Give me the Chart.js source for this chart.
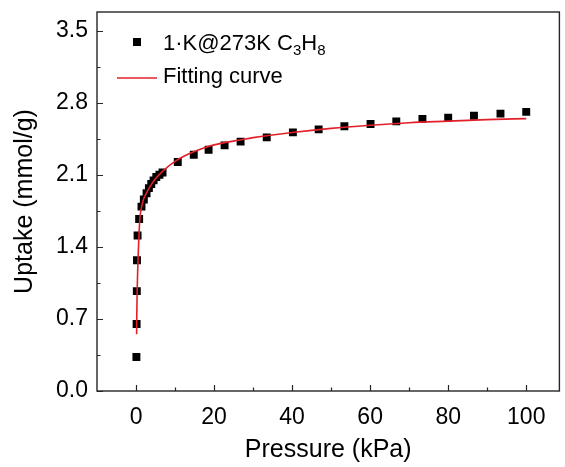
<!DOCTYPE html>
<html>
<head>
<meta charset="utf-8">
<script src="https://cdn.jsdelivr.net/npm/chart.js@4.4.1/dist/chart.umd.min.js"></script>
<style>
  body { margin: 0; background: #fff; }
  #chart { display: block; }
</style>
</head>
<body>
<canvas id="chart" width="565" height="467"></canvas>
<script>
// measured points (kPa, mmol/g)
const pressure = [0.1, 0.15, 0.2, 0.25, 0.4, 0.8, 1.4, 2.0, 2.7, 3.3, 3.9, 4.5, 5.2, 6.0, 6.8,
    10.7, 14.8, 18.6, 22.7, 26.8, 33.5, 40.2, 46.8, 53.4, 60.1, 66.7, 73.4, 80.0, 86.6, 93.4, 100];
const uptake = [0.33, 0.65, 0.97, 1.27, 1.51, 1.67, 1.79, 1.86, 1.92, 1.97, 2.01, 2.045, 2.078, 2.10, 2.122,
    2.223, 2.294, 2.343, 2.385, 2.421, 2.463, 2.511, 2.540, 2.570, 2.593, 2.618, 2.641, 2.654, 2.673, 2.693, 2.710];

// fitting curve
const fitPressure = [0.15, 0.2, 0.3, 0.45, 0.6, 0.8, 1.0, 1.5, 2.0, 2.5, 3.5, 5, 7, 10, 14, 17, 20, 27, 30, 40, 50, 60, 70, 80, 90, 100];
const fitUptake = [0.55, 0.75, 0.98, 1.2, 1.37, 1.55, 1.68, 1.80, 1.87, 1.91, 1.98, 2.06, 2.14, 2.23, 2.31, 2.355, 2.39, 2.44, 2.46, 2.51, 2.55, 2.58, 2.605, 2.62, 2.635, 2.645];

const xTicks = [0, 20, 40, 60, 80, 100];
const yTicks = [0.0, 0.7, 1.4, 2.1, 2.8, 3.5];

const seriesName = '1·K@273K C';
const fitName = 'Fitting curve';

const ctx = document.querySelector('#chart').getContext('2d');
const fontFamily = '"Liberation Sans", Arial, sans-serif';
const axisColor = '#262626';

// frame + inward ticks (major and minor)
const framePlugin = {
    id: 'frame',
    afterDraw(chart) {
        const {ctx, chartArea: a, scales: {x, y}} = chart;
        ctx.save();
        ctx.strokeStyle = axisColor;
        ctx.lineWidth = 1.4;
        ctx.strokeRect(a.left, a.top, a.right - a.left, a.bottom - a.top);

        ctx.lineWidth = 1.2;
        ctx.beginPath();
        for (let i = 0; i < xTicks.length; i++) {
            const px = Math.round(x.getPixelForValue(xTicks[i])) + 0.5;
            ctx.moveTo(px, a.bottom);
            ctx.lineTo(px, a.bottom - 6);
            if (i < xTicks.length - 1) {
                const mid = Math.round(x.getPixelForValue((xTicks[i] + xTicks[i + 1]) / 2)) + 0.5;
                ctx.moveTo(mid, a.bottom);
                ctx.lineTo(mid, a.bottom - 3.5);
            }
        }
        for (let i = 0; i < yTicks.length; i++) {
            const py = Math.round(y.getPixelForValue(yTicks[i])) + 0.5;
            ctx.moveTo(a.left, py);
            ctx.lineTo(a.left + 6, py);
            if (i < yTicks.length - 1) {
                const mid = Math.round(y.getPixelForValue((yTicks[i] + yTicks[i + 1]) / 2)) + 0.5;
                ctx.moveTo(a.left, mid);
                ctx.lineTo(a.left + 3.5, mid);
            }
        }
        ctx.stroke();
        ctx.restore();
    }
};

// legend with subscripts
const legendPlugin = {
    id: 'subLegend',
    afterDraw(chart) {
        const c = chart.ctx;
        c.save();
        c.textBaseline = 'alphabetic';
        c.fillStyle = '#000';

        // row 1: square marker + name with subscripts
        c.fillRect(133, 38, 8, 8);
        let x = 163;
        const base1 = 50;
        c.font = '22px ' + fontFamily;
        c.fillText(seriesName, x, base1);
        x += c.measureText(seriesName).width;
        c.font = '15px ' + fontFamily;
        c.fillText('3', x, base1 + 5);
        x += c.measureText('3').width;
        c.font = '22px ' + fontFamily;
        c.fillText('H', x, base1);
        x += c.measureText('H').width;
        c.font = '15px ' + fontFamily;
        c.fillText('8', x, base1 + 5);

        // row 2: red line + label
        c.strokeStyle = '#e3202a';
        c.lineWidth = 1.5;
        c.beginPath();
        c.moveTo(117, 78);
        c.lineTo(157, 78);
        c.stroke();
        c.font = '22px ' + fontFamily;
        c.fillText(fitName, 163, 83);
        c.restore();
    }
};

new Chart(ctx, {
    type: 'scatter',
    data: {
        datasets: [
            {
                label: fitName,
                data: fitPressure.map((p, i) => ({x: p, y: fitUptake[i]})),
                showLine: true,
                borderColor: '#e3202a',
                borderWidth: 1.6,
                pointRadius: 0,
                cubicInterpolationMode: 'monotone',
                order: 1
            },
            {
                label: seriesName,
                data: pressure.map((p, i) => ({x: p, y: uptake[i]})),
                pointStyle: 'rect',
                pointRadius: 5.6,
                pointHoverRadius: 5.6,
                backgroundColor: '#000',
                borderColor: '#000',
                borderWidth: 0,
                order: 2
            }
        ]
    },
    options: {
        responsive: false,
        animation: false,
        layout: { padding: { left: 0, right: 3, top: 12, bottom: 0 } },
        plugins: {
            legend: { display: false },
            tooltip: { enabled: false }
        },
        scales: {
            x: {
                type: 'linear',
                min: -10,
                max: 108.5,
                grid: { display: false, drawTicks: false },
                border: { display: false },
                afterBuildTicks: (s) => { s.ticks = xTicks.map(v => ({value: v})); },
                afterFit: (s) => { s.height = 76; s.paddingLeft = 0; s.paddingRight = 0; },
                ticks: {
                    padding: 13,
                    color: '#000',
                    font: { family: fontFamily, size: 23 },
                    callback: (v) => v
                },
                title: {
                    display: true,
                    text: 'Pressure (kPa)',
                    color: '#000',
                    font: { family: fontFamily, size: 25 },
                    padding: { top: 0, bottom: 2 }
                }
            },
            y: {
                type: 'linear',
                min: 0,
                max: 3.68,
                grid: { display: false, drawTicks: false },
                border: { display: false },
                afterBuildTicks: (s) => { s.ticks = yTicks.map(v => ({value: v})); },
                afterFit: (s) => { s.width = 97; s.paddingTop = 0; s.paddingBottom = 0; },
                ticks: {
                    padding: 9,
                    color: '#000',
                    font: { family: fontFamily, size: 23 },
                    callback: (v) => Number(v).toFixed(1)
                },
                title: {
                    display: true,
                    text: 'Uptake (mmol/g)',
                    color: '#000',
                    font: { family: fontFamily, size: 25 },
                    padding: { top: 10, bottom: 0 }
                }
            }
        }
    },
    plugins: [framePlugin, legendPlugin]
});
</script>
</body>
</html>
